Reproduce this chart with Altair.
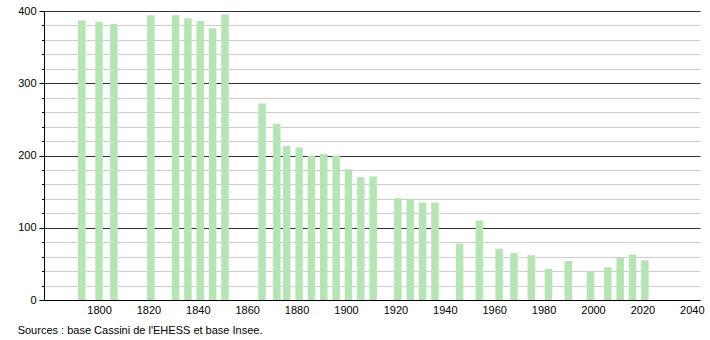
import altair as alt
import pandas as pd

years = [1793, 1800, 1806, 1821, 1831, 1836, 1841, 1846, 1851,
         1866, 1872, 1876, 1881, 1886, 1891, 1896, 1901, 1906, 1911,
         1921, 1926, 1931, 1936, 1946, 1954, 1962, 1968, 1975, 1982,
         1990, 1999, 2006, 2011, 2016, 2021]
population = [387, 385, 382, 394, 394, 390, 386, 376, 395,
              272, 244, 213, 211, 200, 202, 200, 181, 170, 171,
              141, 139, 135, 135, 78, 110, 71, 65, 62, 43,
              54, 40, 45, 58, 63, 55]

y_ticks = list(range(0, 401, 20))
x_ticks = list(range(1800, 2041, 20))

df = pd.DataFrame({"year": years, "pop": population})

font = "Liberation Sans"

chart = alt.Chart(df).mark_bar(size=7.5, color="#b3e6b3").encode(
    x=alt.X("year:Q",
            scale=alt.Scale(domain=[1779.75, 2041.3], nice=False, zero=False),
            axis=alt.Axis(values=x_ticks, format="d", title=None, grid=False,
                          ticks=False, domainColor="#000000", domainWidth=1,
                          labelFont=font, labelFontSize=11, labelColor="#000000",
                          labelPadding=4, labelFlush=False)),
    y=alt.Y("pop:Q",
            scale=alt.Scale(domain=[0, 400], nice=False),
            axis=alt.Axis(values=y_ticks, title=None, grid=True,
                          labelExpr="datum.value % 100 === 0 ? datum.label : ''",
                          gridColor={"condition": {"test": "datum.value % 100 === 0", "value": "#333333"}, "value": "#cccccc"},
                          tickSize={"condition": {"test": "datum.value % 100 === 0", "value": 5}, "value": 2.5},
                          tickColor="#000000", domainColor="#000000",
                          labelFont=font, labelFontSize=11, labelColor="#000000",
                          labelPadding=3, labelFlush=False)),
).properties(
    width=656,
    height=289,
    title=alt.TitleParams(
        "Sources : base Cassini de l'EHESS et base Insee.",
        orient="bottom", anchor="start", dx=0, offset=10,
        font=font, fontSize=11, fontWeight="normal", color="#000000",
    ),
    autosize=alt.AutoSizeParams(type="none"),
    padding={"left": 44, "top": 11, "right": 10, "bottom": 40},
).configure_view(stroke=None)

chart.save("out.html", embed_options={"renderer": "svg", "actions": False})
